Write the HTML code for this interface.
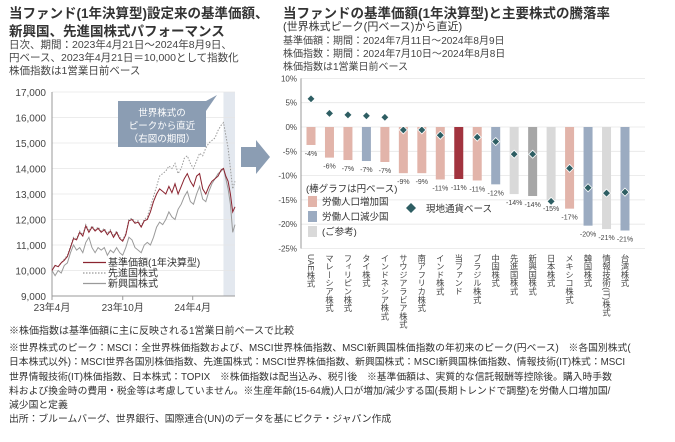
<!DOCTYPE html>
<html><head><meta charset="utf-8">
<style>
body{margin:0;background:#fff;}
#root{position:relative;width:675px;height:442px;overflow:hidden;font-family:"Liberation Sans","Noto Sans CJK JP",sans-serif;color:#333;}
svg text{font-family:"Liberation Sans","Noto Sans CJK JP",sans-serif;}
.t{position:absolute;white-space:nowrap;}
</style></head>
<body>
<div id="root">
<div class="t" style="left:9px;top:5px;font-size:13.5px;font-weight:bold;line-height:18px;color:#333;">当ファンド(1年決算型)設定来の基準価額、<br>新興国、先進国株式パフォーマンス</div>
<div class="t" style="left:9px;top:39px;font-size:10.5px;line-height:13px;color:#444;">日次、期間：2023年4月21日～2024年8月9日、<br>円ベース、2023年4月21日＝10,000として指数化<br>株価指数は1営業日前ベース</div>
<div class="t" style="left:283px;top:5px;font-size:13.5px;font-weight:bold;line-height:17px;color:#333;">当ファンドの基準価額(1年決算型)と主要株式の騰落率</div>
<div class="t" style="left:283px;top:21px;font-size:11px;line-height:13px;color:#333;">(世界株式ピーク(円ベース)から直近)</div>
<div class="t" style="left:283px;top:35px;font-size:10px;line-height:13px;color:#444;">基準価額：期間：2024年7月11日～2024年8月9日<br>株価指数：期間：2024年7月10日～2024年8月8日<br>株価指数は1営業日前ベース</div>
<div class="t" style="left:9px;top:325px;font-size:10px;line-height:14.3px;color:#333;">※株価指数は基準価額に主に反映される1営業日前ベースで比較</div>
<div class="t" style="left:9px;top:342px;font-size:9.8px;line-height:14.3px;color:#333;">※世界株式のピーク：MSCI：全世界株価指数および、MSCI世界株価指数、MSCI新興国株価指数の年初来のピーク(円ベース)　※各国別株式(<br>日本株式以外)：MSCI世界各国別株価指数、先進国株式：MSCI世界株価指数、新興国株式：MSCI新興国株価指数、情報技術(IT)株式：MSCI<br>世界情報技術(IT)株価指数、日本株式：TOPIX　※株価指数は配当込み、税引後　※基準価額は、実質的な信託報酬等控除後。購入時手数<br>料および換金時の費用・税金等は考慮していません。※生産年齢(15-64歳)人口が増加/減少する国(長期トレンドで調整)を労働人口増加国/<br>減少国と定義<br>出所：ブルームバーグ、世界銀行、国際連合(UN)のデータを基にピクテ・ジャパン作成</div>
<svg id="svg" width="675" height="442" style="position:absolute;left:0;top:0"></svg>
</div>
<script>
// ---------- Left chart data ----------
const days = [0,8,16,24,32,40,48,56,64,72,80,88,96,104,112,120,128,136,144,152,160,168,176,184,192,200,208,216,224,232,240,248,256,264,272,280,288,296,304,312,320,328,336,344,352,360,368,376,384,392,400,408,416,424,432,440,446,452,458,464,470,476];
const fundValues = [10000,10200,10150,10300,10400,10550,10900,11250,11200,11500,11350,11750,11500,11700,11550,11650,11500,11600,11400,11550,11300,11500,11250,11150,11400,11950,12000,11850,11900,11700,11950,12000,12300,12700,13000,13200,13100,13000,13300,13050,13400,13000,13300,13600,13800,13500,13300,13700,13800,13200,13000,13300,13500,13600,13700,13950,14000,13700,13500,13000,12300,12500];
const developedValues = [10000,10200,10150,10300,10450,10600,10950,11300,11250,11550,11400,11800,11550,11750,11600,11700,11550,11650,11450,11600,11350,11550,11300,11200,11450,12000,12050,11900,11950,11750,12000,12100,12500,12900,13300,13700,13800,13900,14100,14000,14200,13800,14000,14400,14500,14200,14000,14300,14600,14500,14800,15000,15100,15200,15500,15700,15800,15300,14800,14000,13200,13500];
const emergingValues = [10000,9800,10000,9900,10200,10300,10700,11000,10800,10900,10700,11100,11300,10900,10700,10900,10800,10900,10600,10800,10700,10900,10700,10600,10900,11300,11200,10900,10800,10700,11000,11100,11000,11300,11700,11900,11800,12000,12300,12100,12000,12400,12600,12900,13100,12700,12600,13000,13300,12800,12700,13100,13400,13600,13800,13900,14000,13600,13200,12600,11500,11800];
const yTicks = [9000,10000,11000,12000,13000,14000,15000,16000,17000];
const yTickLabels = ["9,000","10,000","11,000","12,000","13,000","14,000","15,000","16,000","17,000"];
const xTickDays = [0,184,366];
const xTickLabels = ["23年4月","23年10月","24年4月"];
const shadeStartDay = 446;

// ---------- Right chart data ----------
const categories = ["UAE株式","マレーシア株式","フィリピン株式","タイ株式","インドネシア株式","サウジアラビア株式","南アフリカ株式","インド株式","当ファンド","ブラジル株式","中国株式","先進国株式","新興国株式","日本株式","メキシコ株式","韓国株式","情報技術(IT)株式","台湾株式"];
const yenReturns = [-3.7,-6.3,-6.8,-7.0,-7.2,-9.5,-9.5,-10.8,-10.7,-11.0,-11.8,-13.8,-14.2,-15.0,-16.8,-20.3,-21.0,-21.3];
const localReturns = [5.8,2.8,2.5,2.3,2.0,-0.6,-0.6,-1.7,null,-2.1,-3.0,-5.6,-5.6,-15.3,-8.5,-12.5,-13.6,-13.4];
const groups = ["inc","inc","inc","dec","inc","inc","inc","inc","fund","inc","dec","ref","em","ref","inc","dec","ref","dec"];
const rTicks = [10,5,0,-5,-10,-15,-20,-25];

const NS="http://www.w3.org/2000/svg";
const svg=document.getElementById('svg');
function mk(tag,attrs,parent){const e=document.createElementNS(NS,tag);for(const k in attrs)e.setAttribute(k,attrs[k]);(parent||svg).appendChild(e);return e;}

// ===== Left chart =====
const L={x0:52,x1:235,y0:296,y1:92};
const lx=d=>L.x0+(d/476)*(L.x1-L.x0);
const ly=v=>L.y0-(v-9000)/8000*(L.y0-L.y1);
const gl=mk('g',{});


const shade=mk('rect',{x:lx(shadeStartDay),y:L.y1,width:L.x1-lx(shadeStartDay),height:L.y0-L.y1,fill:'#e3e8ef'},gl);


yTicks.forEach((v,i)=>{
  if(v>9000){const g=mk('line',{x1:L.x0,x2:L.x1,y1:ly(v),y2:ly(v),stroke:'#e6e6e6','stroke-width':0.8},gl);
  }
  const t=mk('text',{x:L.x0-6,y:ly(v)+4,'text-anchor':'end','font-size':10,fill:'#444'},gl);
  t.textContent=yTickLabels[i];
  
  
});
mk('line',{x1:L.x0,x2:L.x0,y1:L.y1,y2:L.y0,stroke:'#999','stroke-width':1},gl);
mk('line',{x1:L.x0,x2:L.x1,y1:L.y0,y2:L.y0,stroke:'#999','stroke-width':1},gl);
xTickDays.forEach((d,i)=>{
  mk('line',{x1:lx(d),x2:lx(d),y1:L.y0,y2:L.y0+4,stroke:'#999'},gl);
  const t=mk('text',{x:lx(d),y:L.y0+15,'text-anchor':'middle','font-size':10,fill:'#444'},gl);
  t.textContent=xTickLabels[i];
  
  
});
function series(vals,style,name){
  const p=mk('polyline',Object.assign({points:vals.map((v,i)=>lx(days[i]).toFixed(1)+','+ly(v).toFixed(1)).join(' '),fill:'none'},style),gl);
  
  
}
series(developedValues,{stroke:'#999','stroke-width':1,'stroke-dasharray':'1.5,1.5'},'developed-stocks-line');
series(emergingValues,{stroke:'#9a9a9a','stroke-width':1},'emerging-stocks-line');
series(fundValues,{stroke:'#8b2430','stroke-width':1},'fund-nav-line');
// callout
const co=mk('g',{});


mk('path',{d:'M118,101 H206 L217,95 L206,111 V147 H118 Z',fill:'#8b9db3'},co);
[['世界株式の',116],['ピークから直近',129],['（右図の期間）',142]].forEach(a=>{
  const t=mk('text',{x:162,y:a[1],'text-anchor':'middle','font-size':9.5,fill:'#fff'},co);t.textContent=a[0];
});
// legend left
const lg=[['基準価額(1年決算型)','#8b2430',''],['先進国株式','#999','1.5,1.5'],['新興国株式','#9a9a9a','']];
lg.forEach((a,i)=>{
  const y=266+i*10.5;
  const g=mk('g',{});
  
  
  mk('line',{x1:83,x2:106,y1:y-3.5,y2:y-3.5,stroke:a[1],'stroke-width':1.2,'stroke-dasharray':a[2]||'none'},g);
  const t=mk('text',{x:108,y:y,'font-size':10,fill:'#333'},g);t.textContent=a[0];
});
// arrow
const ar=mk('path',{d:'M241,147 H256 V140 L270,157 L256,174 V167 H241 Z',fill:'#8b9db3'});



// ===== Right chart =====
const R={x0:301,x1:645,first:311,step:18.47,bw:9};
const ry=v=>127-(v/5)*24.3;
const rx=i=>R.first+i*R.step;
const gr=mk('g',{});


rTicks.forEach(v=>{
  const g=mk('line',{x1:R.x0,x2:R.x1,y1:ry(v),y2:ry(v),stroke:'#e6e6e6','stroke-width':0.8},gr);
  
  const t=mk('text',{x:R.x0-4,y:ry(v)+3,'text-anchor':'end','font-size':8,fill:'#444'},gr);
  t.textContent=v+'%';
  
  
});
mk('line',{x1:R.x0,x2:R.x0,y1:ry(10),y2:ry(-25),stroke:'#999'},gr);
const col={inc:'#e2b4aa',dec:'#9babc1',ref:'#d9d9d9',em:'#a6a6a6',fund:'#a2343f'};
yenReturns.forEach((v,i)=>{
  const b=mk('rect',{x:rx(i)-R.bw/2,y:ry(0),width:R.bw,height:ry(v)-ry(0),fill:col[groups[i]]},gr);
  
  
  const t=mk('text',{x:rx(i),y:ry(v)+11,'text-anchor':'middle','font-size':7,fill:'#444'},gr);
  t.textContent=Math.round(v)+'%';
  
  
  const c=mk('text',{x:rx(i),y:254,'font-size':8.3,fill:'#444',style:'writing-mode:vertical-rl'},gr);
  c.textContent=categories[i];
  
  
});
localReturns.forEach((v,i)=>{
  if(v===null)return;
  const x=rx(i),y=ry(v);
  const d=mk('path',{d:`M${x},${y-4} L${x+4},${y} L${x},${y+4} L${x-4},${y} Z`,fill:'#2e5e63',stroke:'#fff','stroke-width':0.8},gr);
  
  
});
// right legend
const rl=mk('g',{});


let tt=mk('text',{x:306,y:192,'font-size':9.5,fill:'#333'},rl);tt.textContent='(棒グラフは円ベース)';
[['労働人口増加国','#e2b4aa',205],['労働人口減少国','#9babc1',220],['(ご参考)','#d9d9d9',235]].forEach(a=>{
  mk('rect',{x:308,y:a[2]-9,width:9,height:11,fill:a[1]},rl);
  const t=mk('text',{x:322,y:a[2],'font-size':9.5,fill:'#333'},rl);t.textContent=a[0];
});
mk('path',{d:'M411,203 L416,208 L411,213 L406,208 Z',fill:'#2e5e63'},rl);
tt=mk('text',{x:426,y:212,'font-size':9.5,fill:'#333'},rl);tt.textContent='現地通貨ベース';
</script>
</body></html>
